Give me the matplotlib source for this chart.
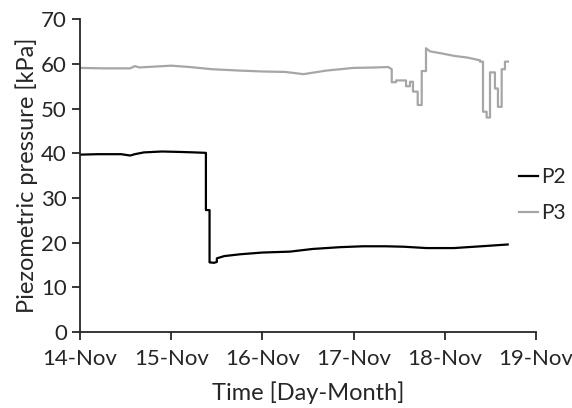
import matplotlib.pyplot as plt

plt.rcParams['font.family'] = ['Lato', 'DejaVu Sans']

# time in days after 14-Nov 00:00
p2_time = [0.00, 0.20, 0.45, 0.55, 0.60, 0.70, 0.90, 1.10, 1.25, 1.38, 1.38, 1.42, 1.42,
           1.47, 1.50, 1.50, 1.58, 1.75, 2.00, 2.30, 2.55, 2.85, 3.10, 3.35, 3.55, 3.80,
           4.10, 4.40, 4.69]
p2_vals = [39.7, 39.8, 39.8, 39.5, 39.8, 40.2, 40.4, 40.3, 40.2, 40.1, 27.3, 27.3, 15.6,
           15.5, 15.7, 16.5, 17.0, 17.4, 17.8, 18.0, 18.6, 19.0, 19.2, 19.2, 19.1, 18.8,
           18.8, 19.2, 19.6]

p3_time = [0.00, 0.25, 0.55, 0.60, 0.65, 1.00, 1.20, 1.45, 1.75, 2.00, 2.25, 2.45,
           2.70, 3.00, 3.25, 3.38, 3.418, 3.418, 3.465, 3.465, 3.575, 3.575, 3.618, 3.618,
           3.651, 3.651, 3.703, 3.703, 3.747, 3.747, 3.794, 3.794, 3.838, 3.95, 4.10,
           4.25, 4.386, 4.386, 4.419, 4.419, 4.459, 4.459, 4.496, 4.496, 4.550, 4.550,
           4.583, 4.583, 4.624, 4.624, 4.660, 4.660, 4.693]
p3_vals = [59.1, 59.0, 59.0, 59.5, 59.2, 59.6, 59.3, 58.8, 58.5, 58.3, 58.2, 57.7,
           58.5, 59.1, 59.2, 59.3, 58.8, 55.9, 55.9, 56.3, 56.3, 55.0, 55.0, 56.0,
           56.0, 53.8, 53.8, 50.8, 50.8, 58.4, 58.4, 63.5, 62.8, 62.4, 61.8,
           61.4, 60.8, 60.5, 60.5, 49.3, 49.3, 48.0, 48.0, 58.1, 58.1, 54.5,
           54.5, 50.4, 50.4, 58.8, 58.8, 60.5, 60.5]

tick_pos = [0, 1, 2, 3, 4, 5]
tick_labels = ['14-Nov', '15-Nov', '16-Nov', '17-Nov', '18-Nov', '19-Nov']

fig = plt.figure(figsize=(5.72, 4.08), dpi=100)
ax = fig.add_axes([0.140, 0.186, 0.797, 0.767])

ax.plot(p2_time, p2_vals, color='black', lw=1.6, label='P2')
ax.plot(p3_time, p3_vals, color='#a6a6a6', lw=1.6, label='P3')

ax.set_xlim(0, 5)
ax.set_ylim(0, 70)
ax.set_xticks(tick_pos)
ax.set_xticklabels(tick_labels)
ax.set_yticks(range(0, 71, 10))

ax.spines['top'].set_visible(False)
ax.spines['right'].set_visible(False)
for s in ['left', 'bottom']:
    ax.spines[s].set_linewidth(1.3)
    ax.spines[s].set_color('#262626')
ax.tick_params(axis='both', labelsize=16, width=1.3, length=6, color='#262626',
               direction='out', labelcolor='#262626')
ax.tick_params(axis='x', pad=6)

ax.set_xlabel('Time [Day-Month]', fontsize=17, labelpad=9, color='#262626')
ax.set_ylabel('Piezometric pressure [kPa]', fontsize=17, labelpad=2, color='#262626')

fig.legend(loc='center left', bbox_to_anchor=(0.893, 0.522), frameon=False,
           fontsize=15, handlelength=0.9, handletextpad=0.15, labelspacing=0.75,
           borderaxespad=0, labelcolor='#262626')

plt.savefig('out.png')
